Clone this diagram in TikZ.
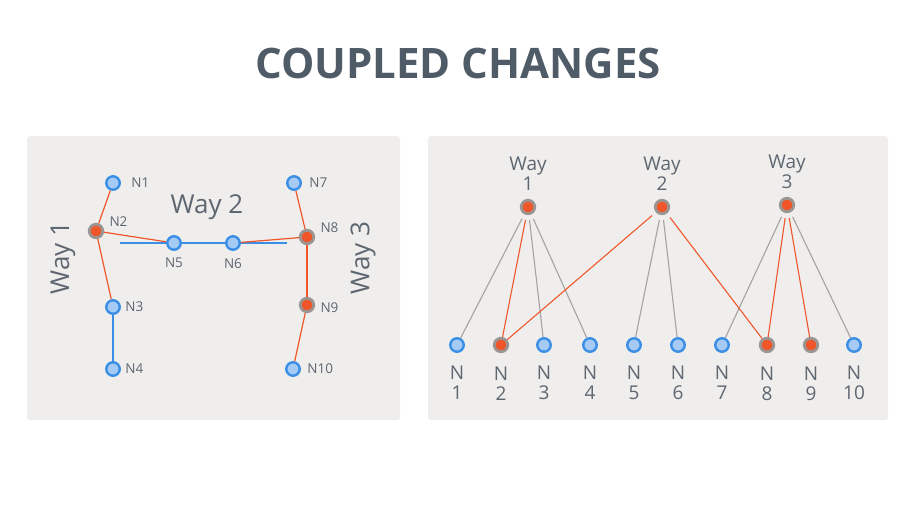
\documentclass[tikz,border=0pt]{standalone}
\usepackage{fontspec}
\setmainfont{Open Sans}
\usetikzlibrary{positioning}

\definecolor{titlegray}{HTML}{505B68}
\definecolor{textgray}{HTML}{5E6670}
\definecolor{panelgray}{HTML}{EFEEED}
\definecolor{roadblue}{HTML}{3A8EE6}
\definecolor{dotblue}{HTML}{A5CBF5}
\definecolor{wayred}{HTML}{F0562A}
\definecolor{ringgray}{HTML}{9A9590}
\definecolor{edgegray}{HTML}{A3A3A3}

\tikzset{
  bluedot/.style={circle, draw=roadblue, fill=dotblue, line width=2.4pt, minimum size=13.5pt, inner sep=0pt},
  reddot/.style={circle, draw=ringgray, fill=wayred, line width=2.8pt, minimum size=13.5pt, inner sep=0pt},
  panel/.style={fill=panelgray, rounded corners=3pt},
  nlabel/.style={text=textgray, inner sep=0pt, font=\fontsize{13.5}{15}\selectfont},
  waylabel/.style={text=textgray, inner sep=0pt, font=\fontsize{26}{30}\selectfont},
  stacklabel/.style={text=textgray, inner sep=0pt, align=center, font=\fontsize{19}{20}\selectfont},
  redroad/.style={draw=wayred, line width=1.2pt},
  blueroad/.style={draw=roadblue, line width=1.8pt},
  grayedge/.style={draw=edgegray, line width=1.1pt, shorten <=5pt},
  rededge/.style={draw=wayred, line width=1.1pt, shorten <=5pt},
}

\begin{document}
\begin{tikzpicture}[x=1pt, y=-1pt, >=stealth, thick]
	\useasboundingbox (0,0) rectangle (916,515);

	% Title
	\node[text=titlegray, font=\fontsize{42}{46}\selectfont\bfseries] (title) at (458,63) {COUPLED CHANGES};

	% Draw panels
	\path[panel] (27,136) rectangle (400,420);
	\path[panel] (428,136) rectangle (888,420);

	% Left map: Way 2 runs behind N5 and N6
	\coordinate (roadstart) at (120,243);
	\coordinate (roadend) at (287,243);
	\draw[blueroad] (roadstart) -- (roadend);

	% Left map: nodes
	\foreach \name/\x/\y/\kind in {m1/113/183/bluedot, m2/96/231/reddot, m3/113/307/bluedot, m4/113/369/bluedot,
		m5/174/243/bluedot, m6/233/243/bluedot, m7/294/183/bluedot, m8/307/237/reddot, m9/307/305/reddot, m10/293/369/bluedot}
		\node[\kind] (\name) at (\x,\y) {};

	% Left map: roads
	\draw[redroad] (m1) -- (m2);
	\draw[redroad] (m2) -- (m3);
	\draw[redroad] (m2) -- (m5);
	\draw[redroad] (m6) -- (m8);
	\draw[redroad] (m7) -- (m8);
	\draw[redroad] (m8) -- (m9);
	\draw[redroad] (m9) -- (m10);
	\draw[blueroad] (m3) -- (m4);

	% Left map: labels
	\node[nlabel, right=10pt of m1] (lm1) {N1};
	\node[nlabel, right=5pt of m2, yshift=9pt] (lm2) {N2};
	\node[nlabel, right=4pt of m3] (lm3) {N3};
	\node[nlabel, right=4pt of m4] (lm4) {N4};
	\node[nlabel, below=7pt of m5] (lm5) {N5};
	\node[nlabel, below=7pt of m6] (lm6) {N6};
	\node[nlabel, right=7pt of m7] (lm7) {N7};
	\node[nlabel, right=5pt of m8, yshift=9pt] (lm8) {N8};
	\node[nlabel, right=5pt of m9, yshift=-3pt] (lm9) {N9};
	\node[nlabel, right=6pt of m10] (lm10) {N10};

	\node[waylabel] (way1) at (63,258) [rotate=90] {Way 1};
	\node[waylabel] (way2) at (207,207) {Way 2};
	\node[waylabel] (way3) at (363,258) [rotate=90] {Way 3};

	% Right graph: ways and nodes
	\foreach \i/\x/\y in {1/528/207, 2/662/207, 3/787/205}
	{
		\node[reddot] (w\i) at (\x,\y) {};
		\node[stacklabel, above=8pt of w\i] (lw\i) {Way\\\i};
	}
	\foreach \i/\x/\kind in {1/457/bluedot, 2/501/reddot, 3/544/bluedot, 4/590/bluedot, 5/634/bluedot,
		6/678/bluedot, 7/722/bluedot, 8/767/reddot, 9/811/reddot, 10/854/bluedot}
	{
		\node[\kind] (b\i) at (\x,345) {};
		\node[stacklabel, below=13pt of b\i] (lb\i) {N\\\i};
	}

	% Right graph: links
	\foreach \w/\b in {1/1, 1/3, 1/4, 2/5, 2/6, 3/7, 3/10}
		\draw[grayedge] (w\w) -- (b\b);
	\foreach \w/\b in {1/2, 2/2, 2/8, 3/8, 3/9}
		\draw[rededge] (w\w) -- (b\b);

\end{tikzpicture}
\end{document}
